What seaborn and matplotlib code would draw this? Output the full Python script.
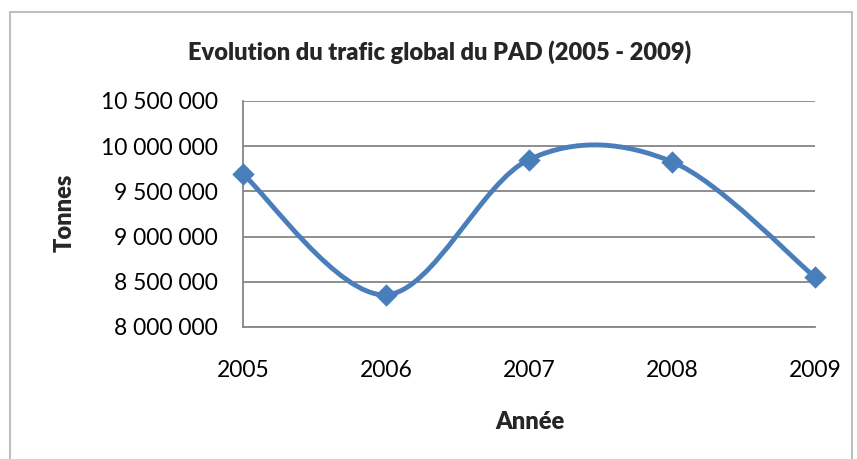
import numpy as np
import pandas as pd
import seaborn as sns
import matplotlib.pyplot as plt
from matplotlib.path import Path
from matplotlib.patches import PathPatch, Rectangle
from matplotlib.ticker import FuncFormatter, MultipleLocator

# Donnees du trafic global du PAD
annees = ["2005", "2006", "2007", "2008", "2009"]
tonnes = [9690000, 8356000, 9852000, 9828000, 8552000]

titre = "Evolution du trafic global du PAD (2005 - 2009)"
label_x = "Année"
label_y = "Tonnes"

sns.set_theme(style="white")
plt.rcParams['font.family'] = ['Lato', 'DejaVu Sans']

bleu = "#4A7EBB"
gris = "#868686"

df = pd.DataFrame({"Annee": annees, "Tonnes": tonnes})
df["pos"] = range(len(df))

fig = plt.figure(figsize=(8.57, 4.59), dpi=100)
ax = fig.add_axes([243 / 857, 1 - 327 / 459, (815 - 243) / 857, (327 - 101) / 459])

# Courbe lissee (bezier a partir des points, comme Excel)
x = df["pos"].to_numpy(dtype=float)
y = df["Tonnes"].to_numpy(dtype=float)
verts = [(x[0], y[0])]
codes = [Path.MOVETO]
n = len(x)
for i in range(n - 1):
    p0 = max(i - 1, 0)
    p3 = min(i + 2, n - 1)
    c1 = (x[i] + (x[i + 1] - x[p0]) / 6, y[i] + (y[i + 1] - y[p0]) / 6)
    c2 = (x[i + 1] - (x[p3] - x[i]) / 6, y[i + 1] - (y[p3] - y[i]) / 6)
    verts += [c1, c2, (x[i + 1], y[i + 1])]
    codes += [Path.CURVE4] * 3
ax.add_patch(PathPatch(Path(verts, codes), facecolor="none", edgecolor=bleu,
                       lw=3.5, capstyle="round", joinstyle="round", zorder=3))

sns.scatterplot(data=df, x="pos", y="Tonnes", marker="D", s=130, color=bleu,
                edgecolor=bleu, linewidth=0, ax=ax, zorder=4, clip_on=False)

ax.set_xlim(0, 4)
ax.set_ylim(8000000, 10500000)
ax.set_xticks(df["pos"])
ax.set_xticklabels(annees)
ax.yaxis.set_major_locator(MultipleLocator(500000))
ax.yaxis.set_major_formatter(FuncFormatter(lambda v, p: f"{int(v):,}".replace(",", " ")))

ax.grid(axis="y", color=gris, lw=1.3)
ax.set_axisbelow(True)
for s in ["top", "right"]:
    ax.spines[s].set_visible(False)
for s in ["left", "bottom"]:
    ax.spines[s].set_color(gris)
    ax.spines[s].set_linewidth(1.3)

ax.tick_params(axis="y", length=0, pad=18, labelsize=16.5, colors="black")
ax.tick_params(axis="x", length=0, pad=24, labelsize=16.5, colors="black")
ax.set_xlabel("")
ax.set_ylabel("")

fig.text(440 / 857, 1 - 52 / 459, titre, ha="center", va="center",
         fontsize=17, fontweight="heavy")
fig.text(530 / 857, 1 - 422 / 459, label_x, ha="center", va="center",
         fontsize=17, fontweight="heavy")
fig.text(65 / 857, 1 - 213 / 459, label_y, ha="center", va="center",
         fontsize=17, fontweight="heavy", rotation=90)

# Cadre du graphique
fig.patches.append(Rectangle((10 / 857, -0.02), 842 / 857, 1 - 12 / 459 + 0.02,
                             transform=fig.transFigure, fill=False,
                             edgecolor="#BFBFBF", lw=1.5))

fig.savefig("out.png", dpi=100)
